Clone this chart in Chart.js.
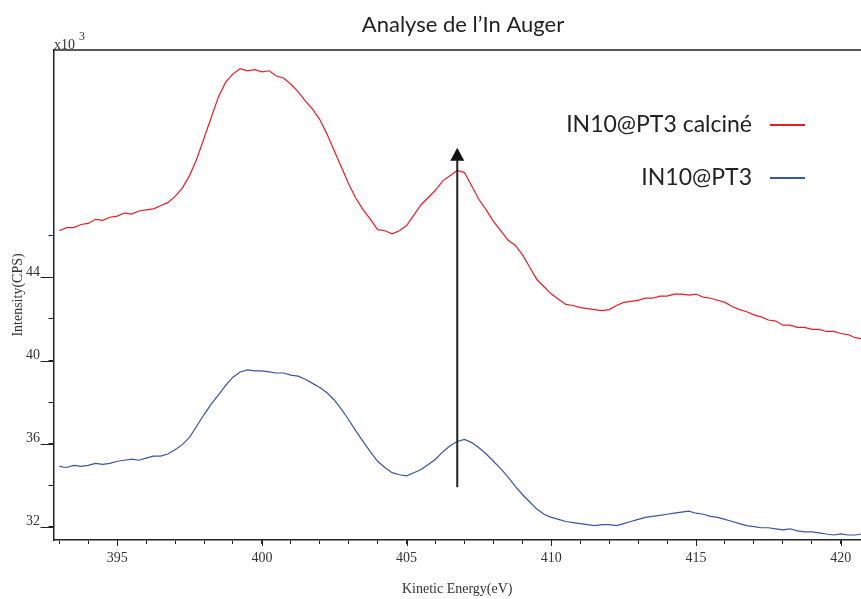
<!DOCTYPE html>
<html>
<head>
<meta charset="utf-8">
<script src="https://cdn.jsdelivr.net/npm/chart.js@4.4.1/dist/chart.umd.min.js"></script>
<style>
html,body{margin:0;padding:0;background:#fff;}
#wrap{width:861px;height:599px;position:relative;}
</style>
</head>
<body>
<div id="wrap"><canvas id="augerChart" width="861" height="599"></canvas></div>
<script>
// kinetic energy (eV)
const energy = [393,393.25,393.5,393.75,394,394.25,394.5,394.75,395,395.25,395.5,395.75,396,396.25,396.5,396.75,
	397,397.25,397.5,397.75,398,398.25,398.5,398.75,399,399.25,399.5,399.75,400,400.25,400.5,400.75,
	401,401.25,401.5,401.75,402,402.25,402.5,402.75,403,403.25,403.5,403.75,404,404.25,404.5,404.75,
	405,405.25,405.5,405.75,406,406.25,406.5,406.75,407,407.25,407.5,407.75,408,408.25,408.5,408.75,
	409,409.25,409.5,409.75,410,410.25,410.5,410.75,411,411.25,411.5,411.75,412,412.25,412.5,412.75,
	413,413.25,413.5,413.75,414,414.25,414.5,414.75,415,415.25,415.5,415.75,416,416.25,416.5,416.75,
	417,417.25,417.5,417.75,418,418.25,418.5,418.75,419,419.25,419.5,419.75,420,420.25,420.5,420.7];
// intensity x10^3 CPS
const calcine = [46.25,46.4,46.4,46.55,46.6,46.8,46.75,46.9,46.95,47.1,47.05,47.2,47.25,47.3,47.45,47.6,
	47.9,48.3,48.9,49.7,50.7,51.7,52.7,53.4,53.8,54.05,53.95,54.0,53.9,53.95,53.7,53.6,
	53.3,52.95,52.5,52.1,51.6,50.9,50.1,49.3,48.5,47.8,47.25,46.8,46.3,46.25,46.1,46.25,
	46.5,47.0,47.5,47.85,48.2,48.65,48.9,49.15,49.05,48.4,47.75,47.25,46.7,46.25,45.8,45.55,
	45.1,44.5,43.9,43.55,43.2,42.95,42.7,42.65,42.55,42.5,42.45,42.4,42.45,42.65,42.8,42.85,
	42.9,43.0,43.0,43.1,43.1,43.2,43.2,43.15,43.2,43.05,43.0,42.9,42.8,42.6,42.45,42.35,
	42.2,42.1,41.95,41.9,41.7,41.7,41.6,41.6,41.5,41.5,41.4,41.4,41.3,41.25,41.1,41.05];
const brut = [34.9,34.85,34.95,34.9,34.95,35.05,35.0,35.05,35.15,35.2,35.25,35.2,35.3,35.4,35.4,35.5,
	35.7,35.95,36.3,36.85,37.4,37.9,38.35,38.8,39.2,39.45,39.55,39.5,39.5,39.45,39.4,39.4,
	39.3,39.25,39.1,38.9,38.7,38.45,38.1,37.65,37.15,36.6,36.1,35.6,35.15,34.85,34.6,34.5,
	34.45,34.6,34.75,35.0,35.25,35.6,35.9,36.1,36.2,36.05,35.8,35.5,35.15,34.8,34.4,33.95,
	33.55,33.2,32.85,32.6,32.45,32.35,32.25,32.2,32.15,32.1,32.05,32.1,32.1,32.05,32.15,32.25,
	32.35,32.45,32.5,32.55,32.6,32.65,32.7,32.75,32.65,32.6,32.5,32.45,32.35,32.25,32.15,32.05,
	32.0,31.95,31.95,31.9,31.85,31.9,31.8,31.75,31.75,31.7,31.65,31.6,31.65,31.6,31.6,31.65];
const seriesNames = ['IN10@PT3 calciné','IN10@PT3'];
const seriesColors = ['#ec1c24','#3b55a6'];
const arrowX = 406.75, arrowFrom = 33.9, arrowTo = 50.25;

function pts(arr){
	return energy.map((e,i)=>({x:e,y:arr[i]}));
}

const serif = '"Liberation Serif", "DejaVu Serif", serif';
const sans = 'Lato, "Open Sans", sans-serif';

const extras = {
	id:'extras',
	afterDraw(chart){
		const ctx = chart.ctx, a = chart.chartArea;
		const xs = chart.scales.x, ys = chart.scales.y;
		ctx.save();
		// top frame line
		ctx.strokeStyle='#222'; ctx.lineWidth=1.5;
		ctx.beginPath(); ctx.moveTo(a.left,a.top); ctx.lineTo(a.right,a.top); ctx.stroke();
		// longer marks for labelled ticks
		ctx.lineWidth=1;
		ys.ticks.forEach(t=>{
			if(t.value%4===0){
				const y=Math.round(ys.getPixelForValue(t.value))+0.5;
				ctx.beginPath(); ctx.moveTo(a.left-13,y); ctx.lineTo(a.left,y); ctx.stroke();
			}
		});
		xs.ticks.forEach(t=>{
			if(t.value%5===0){
				const x=Math.round(xs.getPixelForValue(t.value))+0.5;
				ctx.beginPath(); ctx.moveTo(x,a.bottom); ctx.lineTo(x,a.bottom+6); ctx.stroke();
			}
		});
		// title
		ctx.fillStyle='#222'; ctx.font='22px '+sans; ctx.textAlign='center'; ctx.textBaseline='middle';
		ctx.fillText('Analyse de l\u2019In Auger',463,25);
		// x10^3
		ctx.fillStyle='#333'; ctx.font='14px '+serif; ctx.textAlign='left'; ctx.textBaseline='alphabetic';
		ctx.fillText('x10',54,49);
		ctx.font='12px '+serif; ctx.fillText('3',79,40);
		// arrow
		const ax=xs.getPixelForValue(arrowX), y0=ys.getPixelForValue(arrowFrom), y1=ys.getPixelForValue(arrowTo);
		ctx.strokeStyle='#222'; ctx.fillStyle='#111'; ctx.lineWidth=2;
		ctx.beginPath(); ctx.moveTo(ax,y0); ctx.lineTo(ax,y1+12); ctx.stroke();
		ctx.beginPath(); ctx.moveTo(ax,y1); ctx.lineTo(ax-7,y1+13); ctx.lineTo(ax+7,y1+13); ctx.closePath(); ctx.fill();
		// legend
		ctx.font='23px '+sans; ctx.textAlign='right'; ctx.textBaseline='middle';
		[125,178].forEach((ly,i)=>{
			ctx.fillStyle='#222'; ctx.fillText(seriesNames[i],752,ly);
			ctx.strokeStyle=seriesColors[i]; ctx.lineWidth=2;
			ctx.beginPath(); ctx.moveTo(770,ly); ctx.lineTo(805,ly); ctx.stroke();
		});
		ctx.restore();
	}
};

const augerChart = new Chart(document.querySelector('#augerChart').getContext('2d'),{
	type:'line',
	data:{
		datasets:[{
			label:seriesNames[0],
			data:pts(calcine),
			borderColor:seriesColors[0],
			borderWidth:1.2,
			pointRadius:0,
			tension:0
		},{
			label:seriesNames[1],
			data:pts(brut),
			borderColor:seriesColors[1],
			borderWidth:1.2,
			pointRadius:0,
			tension:0
		}]
	},
	options:{
		responsive:false,
		animation:false,
		layout:{padding:{top:50,left:0,right:0,bottom:0}},
		plugins:{legend:{display:false},title:{display:false},tooltip:{enabled:false}},
		scales:{
			x:{
				type:'linear',
				min:392.8,
				max:420.7,
				afterFit(s){s.height=59;},
				border:{display:true,color:'#222',width:1.5},
				grid:{display:true,drawOnChartArea:false,drawTicks:true,tickLength:4,tickColor:'#222'},
				ticks:{
					stepSize:1,
					includeBounds:false,
					autoSkip:false,
					maxRotation:0,
					padding:6,
					color:'#333',
					font:{family:serif,size:14},
					callback:v=>(v%5===0?String(v):'')
				},
				title:{display:true,text:'Kinetic Energy(eV)',color:'#333',font:{family:serif,size:14},padding:{top:0,bottom:1}}
			},
			y:{
				min:31.36,
				max:54.95,
				afterFit(s){s.width=53.5;},
				afterBuildTicks(s){s.ticks=s.ticks.filter(t=>t.value<=46);},
				border:{display:true,color:'#222',width:1.5},
				grid:{display:true,drawOnChartArea:false,drawTicks:true,tickLength:5,tickColor:'#222'},
				ticks:{
					stepSize:2,
					includeBounds:false,
					autoSkip:false,
					padding:8.5,
					labelOffset:-5,
					color:'#333',
					font:{family:serif,size:14},
					callback:v=>(v%4===0&&v<=44?String(v):'')
				},
				title:{display:true,text:'Intensity(CPS)',color:'#333',font:{family:serif,size:14},padding:{top:10,bottom:0}}
			}
		}
	},
	plugins:[extras]
});
</script>
</body>
</html>
